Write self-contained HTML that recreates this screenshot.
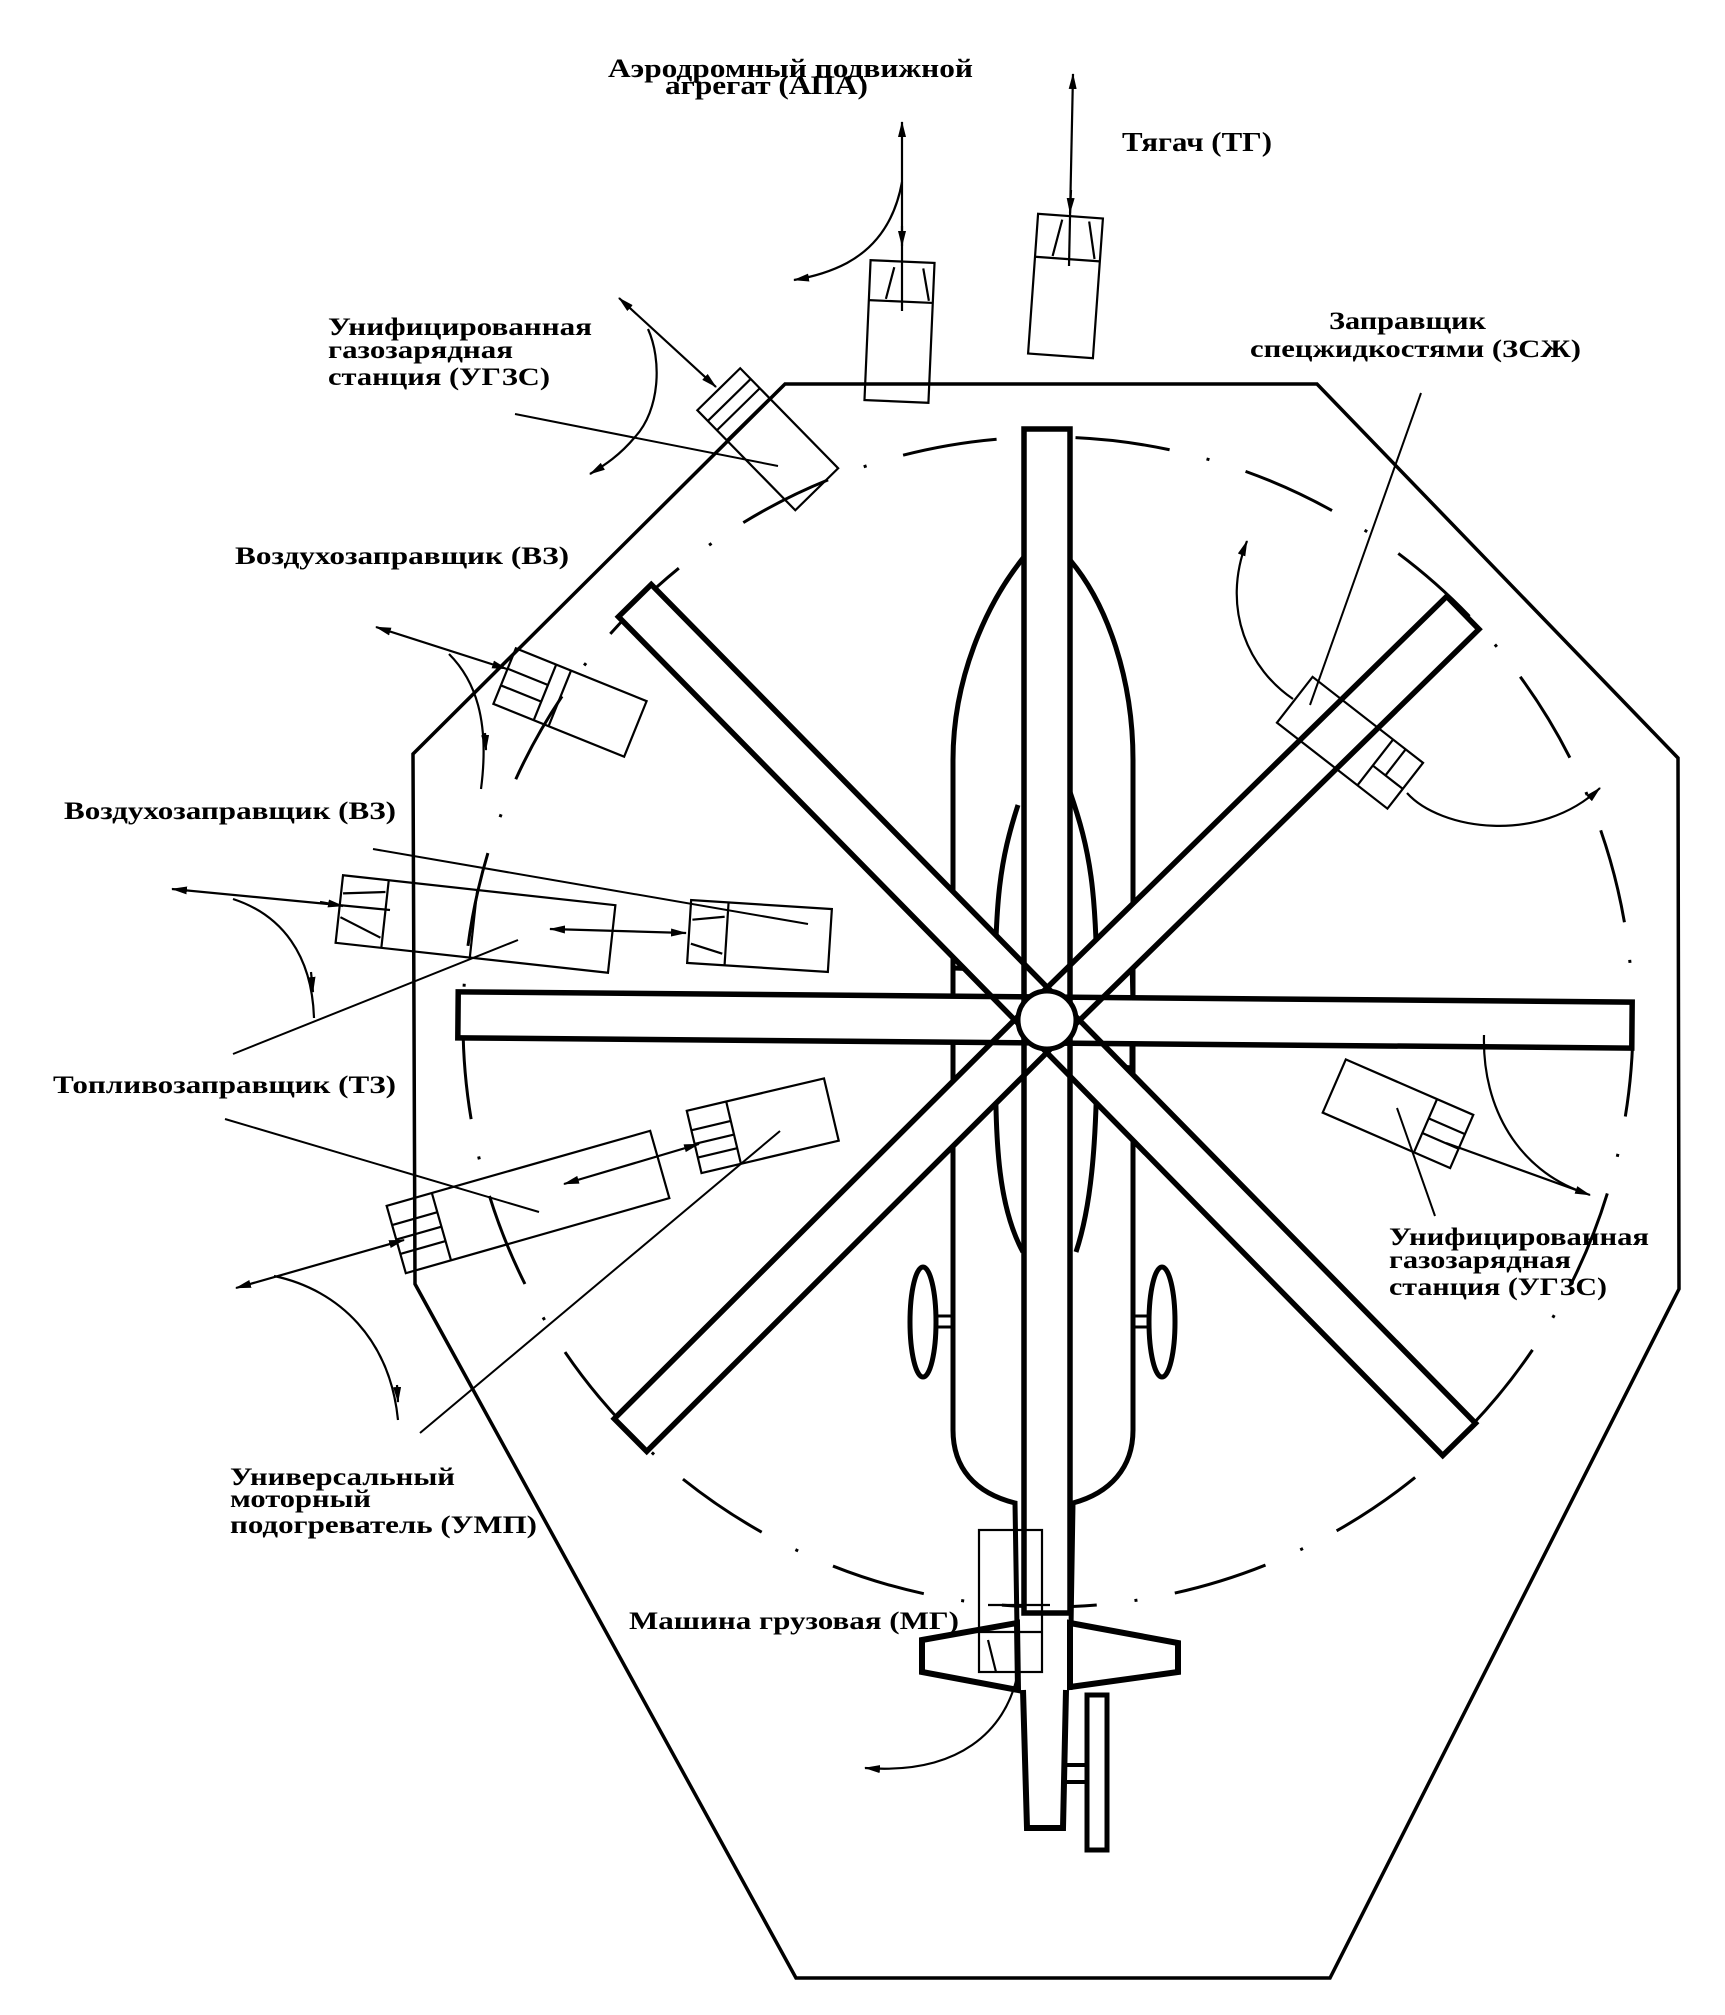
<!DOCTYPE html>
<html><head><meta charset="utf-8">
<style>html,body{margin:0;padding:0;background:#fff}svg{display:block}
text{font-family:"Liberation Serif","DejaVu Serif",serif;font-weight:bold;fill:#000}</style>
</head><body>
<svg width="1725" height="2015" viewBox="0 0 1725 2015" xmlns="http://www.w3.org/2000/svg">
<defs>
<marker id="ah" viewBox="0 0 16 8" refX="15" refY="4" markerWidth="16" markerHeight="8" markerUnits="userSpaceOnUse" orient="auto-start-reverse"><path d="M0,0L16,4L0,8z" fill="#000"/></marker>
</defs>
<rect width="1725" height="2015" fill="#fff"/>

<!-- dashed circle -->
<circle cx="1048" cy="1022" r="585" fill="none" stroke="#000" stroke-width="3" stroke-dasharray="95 38 3 38"/>

<!-- octagon -->
<polygon points="785,384 1317,384 1678,758 1679,1289 1330,1978 796,1978 415,1284 413,754" fill="none" stroke="#000" stroke-width="3.5"/>

<!-- fuselage -->
<g fill="none" stroke="#000" stroke-width="5">
<path d="M1024,557 C985,605 953,680 953,760 L953,1430 C953,1468 975,1493 1015,1503 L1018,1690"/>
<path d="M1070,560 C1108,605 1133,680 1133,760 L1133,1430 C1133,1468 1110,1493 1073,1503 L1070,1690"/>
<path d="M1018,805 C1000,860 995,900 995,1000"/>
<path d="M1070,792 C1090,850 1097,890 1097,1000"/>
<path d="M996,1045 C994,1150 1000,1210 1023,1252"/>
<path d="M1097,1045 C1097,1150 1090,1210 1076,1252"/>
<path d="M953,1000 L953,968 L983,969 L995,982"/>
<path d="M1132,960 L1133,1003 L1125,1010 L1097,1010"/>
<path d="M1132,1040 L1132,1068 L1108,1066 L1097,1055"/>
<ellipse cx="923" cy="1322" rx="13" ry="55"/>
<ellipse cx="1162" cy="1322" rx="13" ry="55"/>
<path d="M936,1316 L953,1316 M936,1327 L953,1327 M1133,1316 L1149,1316 M1133,1327 L1149,1327" stroke-width="3"/>
</g>

<!-- blades fill -->
<g transform="translate(1047,1020)" fill="#fff" stroke="none">
<rect x="0" y="-23" width="591" height="46" transform="rotate(-90)"/>
<rect x="0" y="-23" width="582" height="46" transform="rotate(-44.4)"/>
<rect x="0" y="-23" width="585" height="46" transform="rotate(0.5)"/>
<rect x="0" y="-23" width="588" height="46" transform="rotate(45.5)"/>
<rect x="0" y="-23" width="593" height="46" transform="rotate(90)"/>
<rect x="0" y="-23" width="588" height="46" transform="rotate(135.1)"/>
<rect x="0" y="-23" width="589" height="46" transform="rotate(180.5)"/>
<rect x="0" y="-23" width="588" height="46" transform="rotate(-134.5)"/>
</g>
<!-- blades stroke -->
<g transform="translate(1047,1020)" fill="none" stroke="#000" stroke-width="5.5">
<rect x="0" y="-23" width="591" height="46" transform="rotate(-90)"/>
<rect x="0" y="-23" width="582" height="46" transform="rotate(-44.4)"/>
<rect x="0" y="-23" width="585" height="46" transform="rotate(0.5)"/>
<rect x="0" y="-23" width="588" height="46" transform="rotate(45.5)"/>
<rect x="0" y="-23" width="593" height="46" transform="rotate(90)"/>
<rect x="0" y="-23" width="588" height="46" transform="rotate(135.1)"/>
<rect x="0" y="-23" width="589" height="46" transform="rotate(180.5)"/>
<rect x="0" y="-23" width="588" height="46" transform="rotate(-134.5)"/>
</g>
<circle cx="1047" cy="1020" r="29" fill="#fff" stroke="#000" stroke-width="5"/>

<!-- tail -->
<g fill="#fff" stroke="#000" stroke-width="6">
<path d="M1023,1690 L1027,1828 L1063,1828 L1066,1690" />
<polygon points="922,1640 1017,1623 1018,1690 922,1672"/>
<polygon points="1070,1623 1178,1643 1178,1672 1070,1687"/>
<rect x="1087" y="1695" width="20" height="155" stroke-width="5"/>
<path d="M1063,1765 L1087,1765 M1063,1782 L1087,1782" stroke-width="4" fill="none"/>
</g>

<!-- trucks -->
<g fill="none" stroke="#000" stroke-width="2.2">
<!-- APA -->
<g transform="translate(899.5,331.5) rotate(2.5)">
<rect x="-32" y="-70" width="64" height="140"/><line x1="-32" y1="-30" x2="32" y2="-30"/>
<line x1="-15" y1="-32" x2="-8" y2="-64"/><line x1="21" y1="-64" x2="28" y2="-32"/></g>
<!-- TG -->
<g transform="translate(1065.5,286) rotate(4.1)">
<rect x="-32.5" y="-70" width="65" height="140"/><line x1="-32.5" y1="-27" x2="32.5" y2="-27"/>
<line x1="-15" y1="-29" x2="-8" y2="-66"/><line x1="19" y1="-66" x2="27" y2="-29"/></g>
<!-- UGZS top-left -->
<g transform="translate(767.75,439.25) rotate(45.6)">
<rect x="-70" y="-30" width="140" height="60"/><line x1="-55" y1="-30" x2="-55" y2="30"/>
<line x1="-42" y1="-30" x2="-42" y2="30"/><line x1="-28" y1="-30" x2="-28" y2="30"/></g>
<!-- VZ1 -->
<g transform="translate(570,702.5) rotate(22)">
<rect x="-70.5" y="-30" width="141" height="60"/><line x1="-27" y1="-30" x2="-27" y2="30"/>
<line x1="-11" y1="-30" x2="-11" y2="30"/><line x1="-70" y1="-8" x2="-27" y2="-8"/><line x1="-70" y1="10" x2="-27" y2="10"/></g>
<!-- VZ2 big -->
<g transform="translate(475.5,924) rotate(6.27)">
<rect x="-137" y="-34" width="274" height="68"/><line x1="-91" y1="-34" x2="-91" y2="34"/>
<line x1="-2" y1="-34" x2="-2" y2="34"/><line x1="-135" y1="-16" x2="-93" y2="-22"/><line x1="-135" y1="8" x2="-93" y2="24"/></g>
<!-- VZ2 small -->
<g transform="translate(759.5,936) rotate(3.65)">
<rect x="-70.5" y="-31.5" width="141" height="63"/><line x1="-33" y1="-31.5" x2="-33" y2="31.5"/>
<line x1="-68" y1="-12" x2="-36" y2="-17"/><line x1="-68" y1="12" x2="-36" y2="20"/></g>
<!-- TZ big -->
<g transform="translate(528,1202) rotate(-15.9)">
<rect x="-137" y="-35" width="274" height="70"/><line x1="-90" y1="-35" x2="-90" y2="35"/>
<line x1="-137" y1="-15" x2="-90" y2="-15"/><line x1="-137" y1="0" x2="-90" y2="0"/><line x1="-137" y1="15" x2="-90" y2="15"/></g>
<!-- TZ small -->
<g transform="translate(762.75,1125.75) rotate(-13.3)">
<rect x="-70.5" y="-32" width="141" height="64"/><line x1="-30" y1="-32" x2="-30" y2="32"/>
<line x1="-70" y1="-12" x2="-30" y2="-12"/><line x1="-70" y1="2" x2="-30" y2="2"/><line x1="-70" y1="16" x2="-30" y2="16"/></g>
<!-- ZSZh -->
<g transform="translate(1350,742.75) rotate(37.9)">
<rect x="-70" y="-29" width="140" height="58"/><line x1="32" y1="-29" x2="32" y2="29"/>
<line x1="32" y1="4" x2="70" y2="4"/><line x1="48" y1="-29" x2="48" y2="4"/></g>
<!-- UGZS right -->
<g transform="translate(1398,1113.75) rotate(23.5)">
<rect x="-69.5" y="-29" width="139" height="58"/><line x1="30" y1="-29" x2="30" y2="29"/>
<line x1="30" y1="-8" x2="69.5" y2="-8"/><line x1="30" y1="8" x2="69.5" y2="8"/></g>
<!-- MG -->
<rect x="979" y="1530" width="63" height="142"/><line x1="979" y1="1632" x2="1042" y2="1632"/>
<line x1="988" y1="1640" x2="996" y2="1672"/><line x1="988" y1="1605" x2="1050" y2="1605"/>
</g>

<!-- leader lines -->
<g stroke="#000" stroke-width="2" fill="none">
<line x1="515" y1="414" x2="778" y2="466"/>
<line x1="373" y1="849" x2="808" y2="924"/>
<line x1="233" y1="1054" x2="518" y2="940"/>
<line x1="225" y1="1119" x2="539" y2="1212"/>
<line x1="420" y1="1433" x2="780" y2="1131"/>
<line x1="1421" y1="393" x2="1310" y2="705"/>
<line x1="1397" y1="1108" x2="1435" y2="1216"/>
</g>

<!-- arrows -->
<g stroke="#000" stroke-width="2.2" fill="none">
<path d="M902,311 L902,122" marker-end="url(#ah)"/>
<path d="M902,226 L902,246" marker-end="url(#ah)"/>
<path d="M902,182 C896,215 880,245 847,263 C830,272 812,277 794,280" marker-end="url(#ah)"/>
<path d="M1069,266 L1073,74" marker-end="url(#ah)"/>
<path d="M1071,190 L1070,213" marker-end="url(#ah)"/>
<path d="M619,298 L716,387" marker-start="url(#ah)" marker-end="url(#ah)"/>
<path d="M648,329 C662,360 660,410 635,437 C620,455 605,465 590,474" marker-end="url(#ah)"/>
<path d="M376,627 L507,669" marker-start="url(#ah)" marker-end="url(#ah)"/>
<path d="M449,654 C475,680 490,720 481,789"/>
<path d="M485,733 L486,750" marker-end="url(#ah)"/>
<path d="M172,889 L390,910" marker-start="url(#ah)"/>
<path d="M320,902 L343,906" marker-end="url(#ah)"/>
<path d="M233,899 C282,915 312,955 314,1018"/>
<path d="M311,972 L313,992" marker-end="url(#ah)"/>
<path d="M550,929 L686,933" marker-start="url(#ah)" marker-end="url(#ah)"/>
<path d="M564,1184 L699,1144" marker-start="url(#ah)" marker-end="url(#ah)"/>
<path d="M236,1288 L404,1240" marker-start="url(#ah)" marker-end="url(#ah)"/>
<path d="M274,1276 C340,1290 390,1340 398,1420"/>
<path d="M397,1385 L398,1402" marker-end="url(#ah)"/>
<path d="M1293,699 C1250,670 1220,610 1247,541" marker-end="url(#ah)"/>
<path d="M1407,793 C1440,830 1540,845 1600,788" marker-end="url(#ah)"/>
<path d="M1446,1143 L1590,1195" marker-end="url(#ah)"/>
<path d="M1484,1035 C1482,1110 1520,1170 1582,1192"/>
<path d="M1017,1677 C1005,1730 960,1775 865,1768" marker-end="url(#ah)"/>
</g>

<!-- labels -->
<text x="608" y="77" font-size="26" textLength="365" lengthAdjust="spacingAndGlyphs">Аэродромный подвижной</text>
<text x="665" y="94" font-size="26" textLength="203" lengthAdjust="spacingAndGlyphs">агрегат (АПА)</text>
<text x="1122" y="151" font-size="27" textLength="150" lengthAdjust="spacingAndGlyphs">Тягач (ТГ)</text>

<text x="328" y="335" font-size="25" textLength="264" lengthAdjust="spacingAndGlyphs">Унифицированная</text>
<text x="328" y="358" font-size="25" textLength="185" lengthAdjust="spacingAndGlyphs">газозарядная</text>
<text x="328" y="385" font-size="25" textLength="222" lengthAdjust="spacingAndGlyphs">станция (УГЗС)</text>

<text x="1329" y="329" font-size="25" textLength="157" lengthAdjust="spacingAndGlyphs">Заправщик</text>
<text x="1250" y="357" font-size="25" textLength="331" lengthAdjust="spacingAndGlyphs">спецжидкостями (ЗСЖ)</text>

<text x="235" y="564" font-size="25" textLength="334" lengthAdjust="spacingAndGlyphs">Воздухозаправщик (ВЗ)</text>
<text x="64" y="819" font-size="25" textLength="332" lengthAdjust="spacingAndGlyphs">Воздухозаправщик (ВЗ)</text>
<text x="53" y="1093" font-size="25" textLength="343" lengthAdjust="spacingAndGlyphs">Топливозаправщик (ТЗ)</text>

<text x="1389" y="1245" font-size="25" textLength="260" lengthAdjust="spacingAndGlyphs">Унифицированная</text>
<text x="1389" y="1268" font-size="25" textLength="182" lengthAdjust="spacingAndGlyphs">газозарядная</text>
<text x="1389" y="1295" font-size="25" textLength="218" lengthAdjust="spacingAndGlyphs">станция (УГЗС)</text>

<text x="230" y="1485" font-size="25" textLength="225" lengthAdjust="spacingAndGlyphs">Универсальный</text>
<text x="230" y="1507" font-size="25" textLength="141" lengthAdjust="spacingAndGlyphs">моторный</text>
<text x="230" y="1533" font-size="25" textLength="307" lengthAdjust="spacingAndGlyphs">подогреватель (УМП)</text>

<text x="629" y="1629" font-size="25" textLength="330" lengthAdjust="spacingAndGlyphs">Машина грузовая (МГ)</text>
</svg>
</body></html>
